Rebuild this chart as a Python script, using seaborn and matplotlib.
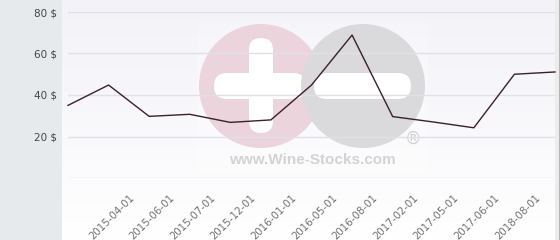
import numpy as np
import matplotlib
matplotlib.use("Agg")
import matplotlib.pyplot as plt
import matplotlib.transforms as mtransforms
from matplotlib.patches import Circle, FancyBboxPatch, Rectangle
from matplotlib.colors import LinearSegmentedColormap
import seaborn as sns

# ---- data ----
dates = ["2015-04-01", "2015-06-01", "2015-07-01", "2015-12-01", "2016-01-01",
         "2016-05-01", "2016-08-01", "2017-02-01", "2017-05-01", "2017-06-01",
         "2018-08-01"]
prices = [35.0, 44.8, 29.7, 30.7, 26.8, 28.0, 44.8, 68.9, 29.6, 27.0, 24.2, 50.0, 51.1]
y_ticks = [0, 20, 40, 60, 80]
y_labels = ["", "20 $", "40 $", "60 $", "80 $"]

W, H = 560, 240
fig = plt.figure(figsize=(W / 100, H / 100), dpi=100, facecolor="#e6eaed")

# background panel with gradient
bg = fig.add_axes([62 / W, 0, (555 - 62) / W, 1], zorder=0)
grad = np.linspace(0, 1, 256).reshape(-1, 1)
cmap = LinearSegmentedColormap.from_list("bg", ["#f2f2f8", "#ffffff"])
bg.imshow(grad, aspect="auto", cmap=cmap, extent=[0, 1, 0, 1], origin="upper")
bg.set_axis_off()

# watermark / decoration layer in pixel coordinates
deco = fig.add_axes([0, 0, 1, 1], zorder=1)
deco.set_xlim(0, W)
deco.set_ylim(H, 0)
deco.set_axis_off()
deco.patch.set_alpha(0)
deco.add_patch(Rectangle((197, 22), 231, 151, color="white", alpha=0.3, lw=0))
deco.add_patch(Circle((261, 86), 62, color="#ecd4dc", lw=0))
deco.add_patch(FancyBboxPatch((249 + 12, 38 + 12), 0, 95 - 24,
                              boxstyle="round,pad=12", color="white", lw=0))
deco.add_patch(FancyBboxPatch((214 + 13, 73 + 13), 306 - 214 - 26, 0,
                              boxstyle="round,pad=13", color="white", lw=0))
deco.add_patch(Circle((363, 86), 62, color="#dadadc", lw=0))
deco.add_patch(FancyBboxPatch((314 + 13, 73 + 13), 411 - 314 - 26, 0,
                              boxstyle="round,pad=13", color="white", lw=0))
deco.text(312, 160, "www.Wine-Stocks.com", ha="center", va="center",
          fontsize=11, fontweight="bold", family="Liberation Sans", color="#d3d3d3")
deco.text(413, 139, "®", ha="center", va="center", fontsize=12,
          family="DejaVu Sans", color="#d0d0d0")
deco.add_patch(Rectangle((555, 0), 4, H, color="#ececec", lw=0))
deco.add_patch(Rectangle((558.8, 0), 1.2, H, color="#b5b5b5", lw=0))

# main axes
ax = fig.add_axes([68 / W, (H - 178) / H, (555 - 68) / W, (178 - 12) / H], zorder=2)
ax.patch.set_alpha(0)
xs = np.arange(len(prices))
ax.grid(axis="y", color="#e0e0e8", lw=1)
ax.set_axisbelow(True)
sns.lineplot(x=xs, y=prices, ax=ax, color="#3b1f2b", lw=1, clip_on=False)
ax.set_xlim(0, len(prices) - 1)
ax.set_ylim(0, 80)
ax.set_yticks(y_ticks)
ax.set_yticklabels(y_labels, fontsize=7.5, color="#444444", family="DejaVu Sans")
ax.set_xticks(np.arange(1, len(dates) + 1))
ax.set_xticklabels(dates, rotation=45, ha="right", va="center",
                   rotation_mode="anchor", fontsize=7.4, color="#707070",
                   family="DejaVu Sans")
ax.tick_params(axis="y", length=0, pad=8)
ax.tick_params(axis="x", length=0, pad=13)
offset = mtransforms.ScaledTranslation(24 / 100, 0, fig.dpi_scale_trans)
for lab in ax.get_xticklabels():
    lab.set_transform(lab.get_transform() + offset)
for s in ax.spines.values():
    s.set_visible(False)
ax.set_xlabel("")
ax.set_ylabel("")

fig.savefig("out.png", dpi=100, facecolor=fig.get_facecolor())
